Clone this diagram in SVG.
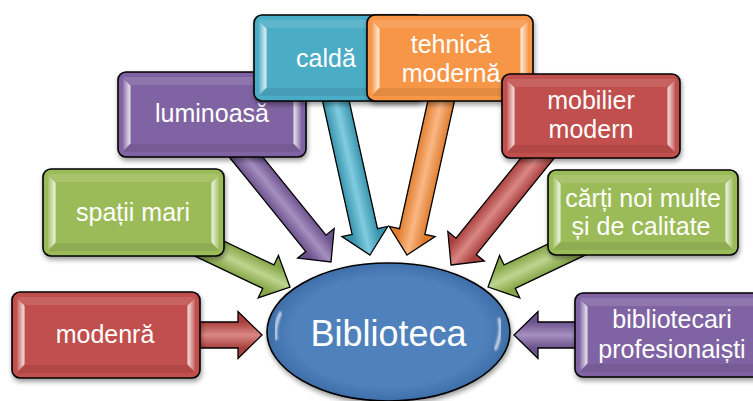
<svg xmlns="http://www.w3.org/2000/svg" width="753" height="401" viewBox="0 0 753 401">
<defs>
<style>
.box{stroke:#000;stroke-width:1.6;filter:url(#sh)}
.arr{stroke:#000;stroke-width:1.3;stroke-linejoin:miter}
.red{fill:#C0504D}.grn{fill:#9BBB59}.pur{fill:#8064A2}.cyn{fill:#4BACC6}.org{fill:#F79646}
.bl{fill:url(#bevL)}.br{fill:url(#bevR)}.bt{fill:#fff;fill-opacity:.12}.bb{fill:#000;fill-opacity:.08}
.t{font-family:"Liberation Sans",Arial,sans-serif;font-size:25px;fill:#fff;text-anchor:middle}
.big{font-size:36px}
</style>
<filter id="sh" x="-10%" y="-10%" width="125%" height="140%">
<feGaussianBlur in="SourceAlpha" stdDeviation="2.5"/>
<feOffset dx="1" dy="3"/>
<feComponentTransfer><feFuncA type="linear" slope="0.4"/></feComponentTransfer>
<feMerge><feMergeNode/><feMergeNode in="SourceGraphic"/></feMerge>
</filter>
<filter id="blur1"><feGaussianBlur stdDeviation="1"/></filter>
<linearGradient id="bevL" x1="0" y1="0" x2="1" y2="0"><stop offset="0" stop-color="#fff" stop-opacity=".1"/><stop offset=".8" stop-color="#fff" stop-opacity=".75"/><stop offset="1" stop-color="#fff" stop-opacity=".3"/></linearGradient>
<linearGradient id="bevR" x1="1" y1="0" x2="0" y2="0"><stop offset="0" stop-color="#fff" stop-opacity=".1"/><stop offset=".8" stop-color="#fff" stop-opacity=".75"/><stop offset="1" stop-color="#fff" stop-opacity=".3"/></linearGradient>
<linearGradient id="gRed" x1="0" y1="0" x2="0" y2="1"><stop offset=".22" stop-color="#A8403D"/><stop offset=".5" stop-color="#DA8784"/><stop offset=".78" stop-color="#A8403D"/></linearGradient>
<linearGradient id="gGrn" x1="0" y1="0" x2="0" y2="1"><stop offset=".22" stop-color="#85A547"/><stop offset=".5" stop-color="#BDD58E"/><stop offset=".78" stop-color="#85A547"/></linearGradient>
<linearGradient id="gPur" x1="0" y1="0" x2="0" y2="1"><stop offset=".22" stop-color="#6C528D"/><stop offset=".5" stop-color="#A590C0"/><stop offset=".78" stop-color="#6C528D"/></linearGradient>
<linearGradient id="gCyn" x1="0" y1="0" x2="0" y2="1"><stop offset=".22" stop-color="#3894AD"/><stop offset=".5" stop-color="#80CCE0"/><stop offset=".78" stop-color="#3894AD"/></linearGradient>
<linearGradient id="gOrg" x1="0" y1="0" x2="0" y2="1"><stop offset=".22" stop-color="#E07E30"/><stop offset=".5" stop-color="#FAB784"/><stop offset=".78" stop-color="#E07E30"/></linearGradient>
<radialGradient id="gEll" cx=".5" cy=".5" r=".5"><stop offset=".8" stop-color="#4F81BD"/><stop offset="1" stop-color="#3F6EA8"/></radialGradient>
</defs>

<g id="connectors">
<path class="arr" fill="url(#gRed)" transform="translate(262,335)" d="M0,0 L-24,-23.5 L-24,-13 L-70,-13 L-70,13 L-24,13 L-24,23.5 Z"/>
<path class="arr" fill="url(#gPur)" transform="translate(514,335) rotate(180)" d="M0,0 L-24,-23.5 L-24,-13 L-70,-13 L-70,13 L-24,13 L-24,23.5 Z"/>
<path class="arr" fill="url(#gGrn)" transform="translate(290,287) rotate(25.5)" d="M0,0 L-24,-23.5 L-24,-13 L-102,-13 L-102,13 L-24,13 L-24,23.5 Z"/>
<path class="arr" fill="url(#gGrn)" transform="translate(488,287) rotate(154.5)" d="M0,0 L-24,-23.5 L-24,-13 L-102,-13 L-102,13 L-24,13 L-24,23.5 Z"/>
<path class="arr" fill="url(#gPur)" transform="translate(331,262) rotate(51)" d="M0,0 L-24,-23.5 L-24,-13 L-145,-13 L-145,13 L-24,13 L-24,23.5 Z"/>
<path class="arr" fill="url(#gRed)" transform="translate(451,265) rotate(129)" d="M0,0 L-24,-23.5 L-24,-13 L-148,-13 L-148,13 L-24,13 L-24,23.5 Z"/>
<path class="arr" fill="url(#gCyn)" transform="translate(370,255) rotate(77.5)" d="M0,0 L-24,-23.5 L-24,-13 L-165,-13 L-165,13 L-24,13 L-24,23.5 Z"/>
<path class="arr" fill="url(#gOrg)" transform="translate(407,255) rotate(102.5)" d="M0,0 L-24,-23.5 L-24,-13 L-165,-13 L-165,13 L-24,13 L-24,23.5 Z"/>
</g>

<g id="n-biblioteca">
<ellipse cx="388.5" cy="332" rx="121.5" ry="69" fill="url(#gEll)" stroke="#000" stroke-width="1.6" filter="url(#sh)"/>
<path d="M281,312 Q274,325 276,340" fill="none" stroke="#fff" stroke-opacity=".75" stroke-width="3" filter="url(#blur1)"/>
<path d="M499,318 Q503,333 495,350" fill="none" stroke="#fff" stroke-opacity=".75" stroke-width="3" filter="url(#blur1)"/>
<text class="t big" x="388.5" y="346">Biblioteca</text>
</g>

<g id="n-modenra" transform="translate(12,292)">
<rect class="box red" width="188" height="86" rx="8"/>
<polygon class="bt" points="5,5 183,5 175,13 13,13"/>
<polygon class="bb" points="5,81 183,81 175,73 13,73"/>
<polygon class="bl" points="5,6 13,14 13,72 5,80"/>
<polygon class="br" points="183,6 175,14 175,72 183,80"/>
<text class="t" x="93" y="51">modenră</text>
</g>

<g id="n-spatii" transform="translate(43,169)">
<rect class="box grn" width="181" height="87" rx="8"/>
<polygon class="bt" points="5,5 176,5 168,13 13,13"/>
<polygon class="bb" points="5,82 176,82 168,74 13,74"/>
<polygon class="bl" points="5,6 13,14 13,73 5,81"/>
<polygon class="br" points="176,6 168,14 168,73 176,81"/>
<text class="t" x="90" y="52">spații mari</text>
</g>

<g id="n-luminoasa" transform="translate(118,72)">
<rect class="box pur" width="188" height="85" rx="8"/>
<polygon class="bt" points="5,5 183,5 175,13 13,13"/>
<polygon class="bb" points="5,80 183,80 175,72 13,72"/>
<polygon class="bl" points="5,6 13,14 13,71 5,79"/>
<polygon class="br" points="183,6 175,14 175,71 183,79"/>
<text class="t" x="94" y="50">luminoasă</text>
</g>

<g id="n-calda" transform="translate(254,15)">
<rect class="box cyn" width="170" height="86" rx="8"/>
<polygon class="bt" points="5,5 165,5 157,13 13,13"/>
<polygon class="bb" points="5,81 165,81 157,73 13,73"/>
<polygon class="bl" points="5,6 13,14 13,72 5,80"/>
<text class="t" x="72" y="52">caldă</text>
</g>

<g id="n-tehnica" transform="translate(367,15)">
<rect class="box org" width="166" height="86" rx="8"/>
<polygon class="bt" points="5,5 161,5 153,13 13,13"/>
<polygon class="bb" points="5,81 161,81 153,73 13,73"/>
<polygon class="bl" points="5,6 13,14 13,72 5,80"/>
<polygon class="br" points="161,6 153,14 153,72 161,80"/>
<text class="t" x="84" y="38">tehnică</text>
<text class="t" x="84" y="67">modernă</text>
</g>

<g id="n-mobilier" transform="translate(502,74)">
<rect class="box red" width="178" height="84" rx="8"/>
<polygon class="bt" points="5,5 173,5 165,13 13,13"/>
<polygon class="bb" points="5,79 173,79 165,71 13,71"/>
<polygon class="bl" points="5,6 13,14 13,70 5,78"/>
<polygon class="br" points="173,6 165,14 165,70 173,78"/>
<text class="t" x="89" y="35">mobilier</text>
<text class="t" x="89" y="64">modern</text>
</g>

<g id="n-carti" transform="translate(548,170)">
<rect class="box grn" width="190" height="85" rx="8"/>
<polygon class="bt" points="5,5 185,5 177,13 13,13"/>
<polygon class="bb" points="5,80 185,80 177,72 13,72"/>
<polygon class="bl" points="5,6 13,14 13,71 5,79"/>
<polygon class="br" points="185,6 177,14 177,71 185,79"/>
<text class="t" x="95" y="37">cărți noi multe</text>
<text class="t" x="93" y="65">și de calitate</text>
</g>

<g id="n-bibliotecari" transform="translate(575,293)">
<rect class="box pur" width="194" height="84" rx="8"/>
<polygon class="bt" points="5,5 189,5 181,13 13,13"/>
<polygon class="bb" points="5,79 189,79 181,71 13,71"/>
<polygon class="bl" points="5,6 13,14 13,70 5,78"/>
<polygon class="br" points="189,6 181,14 181,70 189,78"/>
<text class="t" x="97" y="35">bibliotecari</text>
<text class="t" x="97" y="65">profesionaiști</text>
</g>
</svg>
